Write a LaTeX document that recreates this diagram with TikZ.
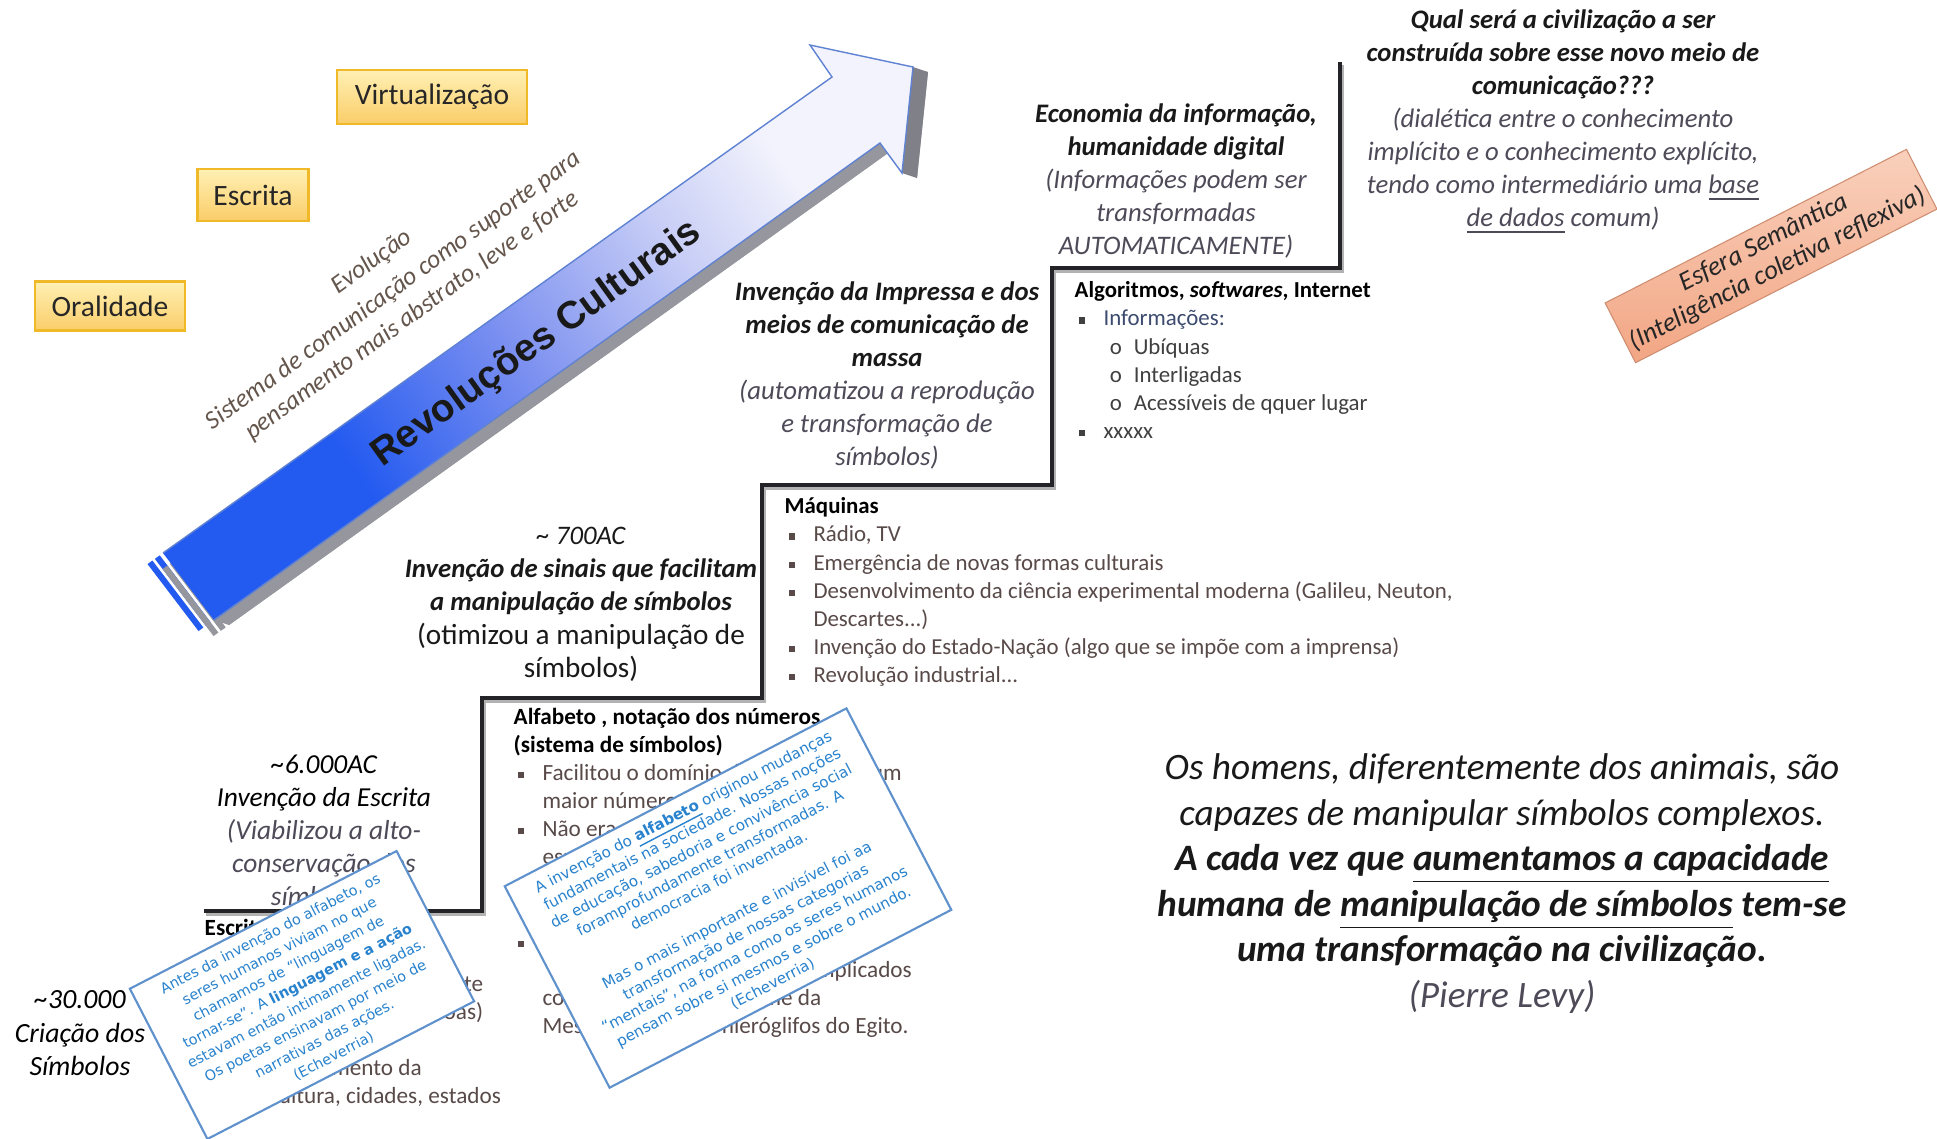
\documentclass[tikz,border=0pt]{standalone}
\usepackage{fontspec}
\setmainfont{Carlito}
\newfontfamily\notefont{DejaVu Sans}
\newfontfamily\revfont{Liberation Sans}
\usetikzlibrary{calc,positioning}
\definecolor{arrdeep}{RGB}{35,90,240}
\definecolor{arrmid}{RGB}{125,145,240}
\definecolor{arrlight}{RGB}{200,206,246}
\definecolor{arrpale}{RGB}{242,243,252}
\definecolor{arrline}{RGB}{95,130,210}
\definecolor{arrside}{RGB}{150,150,158}
\definecolor{arrtip}{RGB}{128,128,136}
\definecolor{erafill}{RGB}{255,240,180}
\definecolor{eradark}{RGB}{250,205,105}
\definecolor{eraline}{RGB}{240,185,40}
\definecolor{notetext}{RGB}{40,130,205}
\definecolor{noteline}{RGB}{95,145,205}
\definecolor{tagfill}{RGB}{249,208,188}
\definecolor{tagdark}{RGB}{242,166,132}
\definecolor{sidetxt}{RGB}{100,86,76}
\definecolor{paren}{RGB}{78,74,88}
\definecolor{itemtxt}{RGB}{88,74,72}
\definecolor{infoblue}{RGB}{60,75,110}
\definecolor{stairline}{RGB}{35,35,40}
\pgfdeclarehorizontalshading{revshade}{100bp}{color(0bp)=(arrdeep); color(33bp)=(arrdeep); color(48bp)=(arrmid); color(62bp)=(arrlight); color(72bp)=(arrpale); color(100bp)=(arrpale)}
\newcommand{\fsz}[2]{\fontsize{#1}{#2}\selectfont}
\newcommand{\hd}[1]{\textbf{#1}}
\newcommand{\pa}[1]{\textcolor{paren}{#1}}
\newcommand{\sqb}{\hspace*{1.2pt}\makebox[7pt][l]{\rule[0.6pt]{1.8pt}{1.8pt}}}
\newcommand{\sqc}{\hspace*{8.2pt}}
\newcommand{\subb}{\hspace*{10pt}\makebox[6.8pt][l]{o}}
\begin{document}
\begin{tikzpicture}[x=0.01cm, y=-0.01cm,
    era/.style={draw=eraline, line width=0.8pt, top color=erafill, bottom color=eradark,
      inner sep=0pt, font=\fsz{8.4}{10}, text=black!85},
    stage/.style={align=center, inner sep=0pt, anchor=north, font=\itshape\fsz{7.6}{9.4}, text=black!90},
    bullets/.style={align=left, inner sep=0pt, anchor=north west, font=\fsz{6.5}{8}, text=itemtxt},
    note/.style={draw=noteline, line width=0.6pt, fill=white, align=center, inner sep=0pt,
      text=notetext, font=\notefont\fsz{4.1}{5.6}},
    tag/.style={top color=tagfill, bottom color=tagdark, draw=tagdark!85!black, line width=0.3pt,
      align=center, inner sep=0pt, font=\itshape\fsz{7.6}{8.4}, text=black!85},
    aside/.style={align=center, inner sep=0pt, font=\itshape\fsz{7.3}{8.9}, text=sidetxt},
    stair/.style={draw=stairline, line width=0.9pt},
    stairshadow/.style={draw=black!30, line width=1.2pt}]

  \fill[white] (0,0) rectangle (1937,1138);
  \useasboundingbox (0,0) rectangle (1937,1138);

  % big arrow: corners of the front face and of its grey side
  \foreach \n/\p in {tt/{163,553},nt/{832,77},hl/{810,45},tip/{913,67},hr/{902,173},nb/{880,143},tb/{214,620}}{
    \coordinate (\n) at (\p);
    \coordinate (\n-s) at ($(\p)+(15,5)$);
  }
  \fill[arrside] (tt-s) -- (nt-s) -- (hl-s) -- (tip-s) -- (hr-s) -- (nb-s) -- (tb-s) -- cycle;
  \fill[arrside] (tb) -- (nb) -- (nb-s) -- (tb-s) -- cycle;
  \fill[arrtip] (tip) -- (tip-s) -- (hr-s) -- (hr) -- cycle;
  \foreach \a/\b in {4/10,13/19}{
    \fill[arrside] ($(tt-s)+\a*(-0.815,0.58)$) -- ($(tb-s)+\a*(-0.815,0.58)$)
      -- ($(tb-s)+\b*(-0.815,0.58)$) -- ($(tt-s)+\b*(-0.815,0.58)$) -- cycle;
    \fill[arrdeep] ($(tt)+\a*(-0.815,0.58)$) -- ($(tb)+\a*(-0.815,0.58)$)
      -- ($(tb)+\b*(-0.815,0.58)$) -- ($(tt)+\b*(-0.815,0.58)$) -- cycle;
  }
  \shade[shading=revshade, shading angle=35] (tt) -- (nt) -- (hl) -- (tip) -- (hr) -- (nb) -- (tb) -- cycle;
  \draw[arrline, line width=0.4pt] (tb) -- (nb) -- (hr) -- (tip) -- (hl) -- (nt) -- (tt);
  \node[rotate=35.7, inner sep=0pt, font=\revfont\bfseries\fsz{11}{13}, text=black!90] (revol) at (537,344) {Revoluções Culturais};

  % eras
  \node[era, minimum width=1.5cm, minimum height=0.49cm] (oral) at (110,306) {Oralidade};
  \node[era, minimum width=1.11cm, minimum height=0.52cm] (escr) at (253,195) {Escrita};
  \node[era, minimum width=1.9cm, minimum height=0.54cm] (virt) at (432,97) {Virtualização};
  \node[aside, rotate=36] (evol) at (372,262) {Evolução};
  \node[aside, rotate=36] (sist) at (403,303) {Sistema de comunicação como suporte para\\pensamento mais abstrato, leve e forte};

  % staircase
  \foreach \n/\p in {s0/{204,911},s1/{482,911},s2/{482,698},s3/{762,698},s4/{762,485},s5/{1052,485},s6/{1052,268},s7/{1340,268},s8/{1340,62}}{
    \coordinate (\n) at (\p);
  }
  \draw[stairshadow] ($(s0)+(2,3)$) -- ($(s1)+(2,3)$) -- ($(s2)+(2,3)$) -- ($(s3)+(2,3)$) -- ($(s4)+(2,3)$)
    -- ($(s5)+(2,3)$) -- ($(s6)+(2,3)$) -- ($(s7)+(2,3)$) -- ($(s8)+(2,3)$);
  \draw[stair] (s0) -- (s1) -- (s2) -- (s3) -- (s4) -- (s5) -- (s6) -- (s7) -- (s8);

  % stages
  \node[stage, font=\itshape\fsz{7.9}{9.5}, text=black] (simb) at (80,990) {\textasciitilde30.000\\Criação dos\\Símbolos};
  \node[stage, font=\itshape\fsz{7.8}{9.4}, text=black] (escrita) at (324,754) {\textasciitilde6.000AC\\Invenção da Escrita\\\pa{(Viabilizou a alto-}\\\pa{conservação dos}\\\pa{símbolos)}};
  \node[stage, font=\itshape\fsz{7.6}{9.5}] (sinais) at (581,526) {\textasciitilde\ 700AC\\\hd{Invenção de sinais que facilitam}\\\hd{a manipulação de símbolos}\\{\upshape\fsz{8.3}{9.5}(otimizou a manipulação de}\\{\upshape\fsz{8.3}{9.5}símbolos)}};
  \node[stage] (imprensa) at (887,281) {\hd{Invenção da Impressa e dos}\\\hd{meios de comunicação de}\\\hd{massa}\\\pa{(automatizou a reprodução}\\\pa{e transformação de}\\\pa{símbolos)}};
  \node[stage] (econ) at (1176,103) {\hd{Economia da informação,}\\\hd{humanidade digital}\\\pa{(Informações podem ser}\\\pa{transformadas}\\\pa{AUTOMATICAMENTE)}};
  \node[stage] (qual) at (1563,9) {\hd{Qual será a civilização a ser}\\\hd{construída sobre esse novo meio de}\\\hd{comunicação???}\\\pa{(dialética entre o conhecimento}\\\pa{implícito e o conhecimento explícito,}\\\pa{tendo como intermediário uma \underline{base}}\\\pa{\underline{de dados} comum)}};

  % lists under each step
  \node[bullets, font=\fsz{6.6}{8}] (escrlist) at (204,918) {\textcolor{black}{\hd{Escrita}}\\
    \sqb\\
    \sqc\makebox[71pt][r]{permanente}\\
    \sqc\makebox[71pt][r]{(das pessoas)}\\
    \sqb\\
    \sqc\makebox[53.5pt][r]{Surgimento da}\\
    \sqc agricultura, cidades, estados};
  \node[bullets, font=\fsz{6.6}{8}] (alfalist) at (513,707) {\textcolor{black}{\hd{Alfabeto , notação dos números}}\\
    \textcolor{black}{\hd{(sistema de símbolos)}}\\
    \sqb Facilitou o domínio da escrita para um\\
    \sqc maior número de pessoas\\
    \sqb Não era mais necessário ser um\\
    \sqc especialista\\
    \mbox{}\\
    \mbox{}\\
    \sqb\\
    \sqc\makebox[105pt][r]{menos complicados}\\
    \sqc como a escrita cuneiforme da\\
    \sqc Mesopotâmia e os hieróglifos do Egito.};
  \node[bullets] (maqlist) at (784,497) {\textcolor{black}{\hd{Máquinas}}\\
    \sqb Rádio, TV\\
    \sqb Emergência de novas formas culturais\\
    \sqb Desenvolvimento da ciência experimental moderna (Galileu, Neuton,\\
    \sqc Descartes...)\\
    \sqb Invenção do Estado-Nação (algo que se impõe com a imprensa)\\
    \sqb Revolução industrial...};
  \node[bullets, text=black!75] (algolist) at (1074,281) {\textcolor{black}{\hd{Algoritmos, \textit{softwares}, Internet}}\\
    \sqb\textcolor{infoblue}{Informações:}\\
    \subb Ubíquas\\
    \subb Interligadas\\
    \subb Acessíveis de qquer lugar\\
    \sqb xxxxx};

  % quotes on paper notes
  \node[note, rotate=27.3, minimum width=3cm, minimum height=1.69cm] (notafala) at (302,995) {Antes da invenção do alfabeto, os\\
    seres humanos viviam no que\\
    chamamos de “linguagem de\\
    tornar-se”. A \textbf{linguagem e a ação}\\
    estavam então intimamente ligadas.\\
    Os poetas ensinavam por meio de\\
    narrativas das ações.\\
    (Echeverria)};
  \node[note, rotate=27.5, minimum width=3.85cm, minimum height=2.27cm, font=\notefont\fsz{4.3}{5.5}] (notaalfa) at (728,898) {A invenção do \underline{\textbf{alfabeto}} originou mudanças\\
    fundamentais na sociedade. Nossas noções\\
    de educação, sabedoria e convivência social\\
    foramprofundamente transformadas. A\\
    democracia foi inventada.\\
    \mbox{}\\
    Mas o mais importante e invisível foi aa\\
    transformação de nossas categorias\\
    “mentais”, na forma como os seres humanos\\
    pensam sobre si mesmos e sobre o mundo.\\
    (Echeverria)};

  \node[tag, rotate=27, minimum width=3.38cm, minimum height=0.67cm] (esfera) at (1771,256) {Esfera Semântica\\(Inteligência coletiva reflexiva)};

  \node[stage, font=\itshape\fsz{10.6}{12.95}] (levy) at (1502,753) {Os homens, diferentemente dos animais, são\\
    capazes de manipular símbolos complexos.\\
    \hd{A cada vez que \underline{aumentamos a capacidade}}\\
    \hd{humana de \underline{manipulação de símbolos} tem-se}\\
    \hd{uma transformação na civilização.}\\
    \pa{(Pierre Levy)}};
\end{tikzpicture}
\end{document}
